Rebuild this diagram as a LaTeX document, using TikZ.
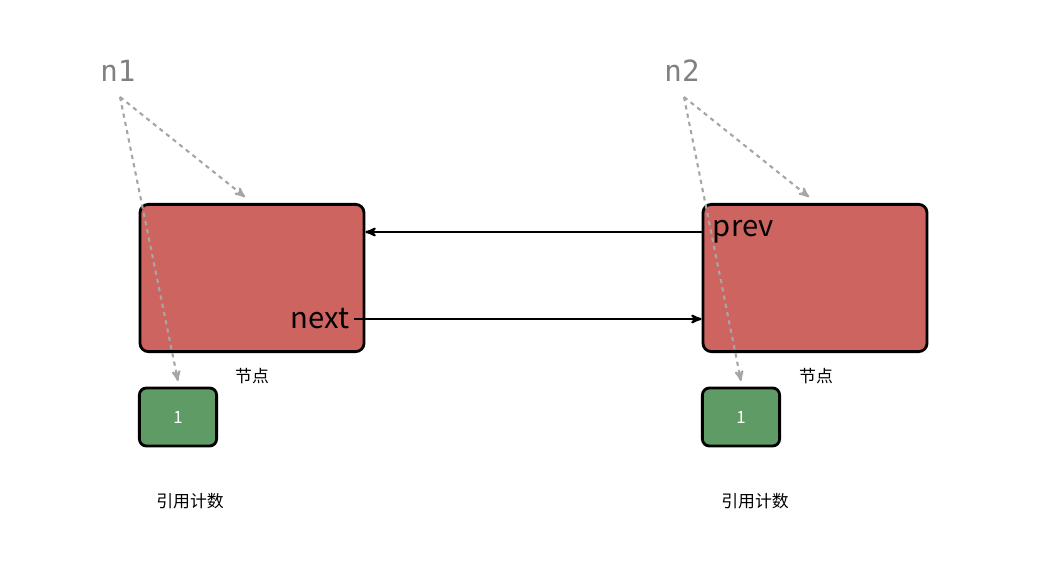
\documentclass[tikz,border=0pt]{standalone}
\usepackage{fontspec}
\setmainfont{Noto Sans CJK SC}
\newfontfamily\varfont{DejaVu Sans Mono}
\usetikzlibrary{positioning}
\usetikzlibrary{arrows}
\definecolor{nodered}{RGB}{205,100,95}
\definecolor{countgreen}{RGB}{95,155,100}
\tikzset{
    listnode/.style={
        draw,
        line width=2pt,
        rounded corners=6pt,
        fill=nodered,
        minimum width=5.6cm,
        minimum height=3.68cm},
    refcount/.style={
        draw,
        line width=2pt,
        rounded corners=5pt,
        fill=countgreen,
        text=white,
        font=\large,
        minimum width=1.93cm,
        minimum height=1.45cm},
    varname/.style={
        text=gray,
        font=\varfont\huge},
    caption/.style={
        font=\large},
    ref/.style={
        draw=gray!70,
        dashed,
        line width=1.5pt,
        ->,>=stealth'},
    link/.style={
        draw,
        line width=1.5pt,
        ->,>=stealth'}}

\begin{document}
\begin{tikzpicture}[x=0.025cm,y=-0.025cm]
        \useasboundingbox (0,0) rectangle (1055,565);

        \node[listnode] (b1) at (252,278) {};
        \node[listnode] (b2) at (815,278) {};
        \node[refcount] (c1) at (178,417) {1};
        \node[refcount] (c2) at (741,417) {1};

        \node[caption] at (252,376) (t1) {节点};
        \node[caption] at (816,376) (t2) {节点};
        \node[caption] at (190,501) (r1) {引用计数};
        \node[caption] at (755,501) (r2) {引用计数};

        \node[varname] at (118,71) (n1) {n1};
        \node[varname] at (682,71) (n2) {n2};

        \node[font=\huge,anchor=east] at (354,319) (next) {next};
        \node[font=\huge,anchor=west] at (708,232) (prev) {prev};

        \coordinate (n1s) at (120,97);
        \coordinate (n2s) at (684,97);
        \coordinate (b1t) at (245,197);
        \coordinate (b2t) at (809,197);
        \coordinate (c1t) at (178,381);
        \coordinate (c2t) at (741,381);

        \draw[ref] (n1s) -- (b1t);
        \draw[ref] (n1s) -- (c1t);
        \draw[ref] (n2s) -- (b2t);
        \draw[ref] (n2s) -- (c2t);

        \draw[link] (next.east) -- (b2.west |- next.east);
        \draw[link] (b2.west |- prev.west) -- (b1.east |- prev.west);
\end{tikzpicture}
\end{document}
